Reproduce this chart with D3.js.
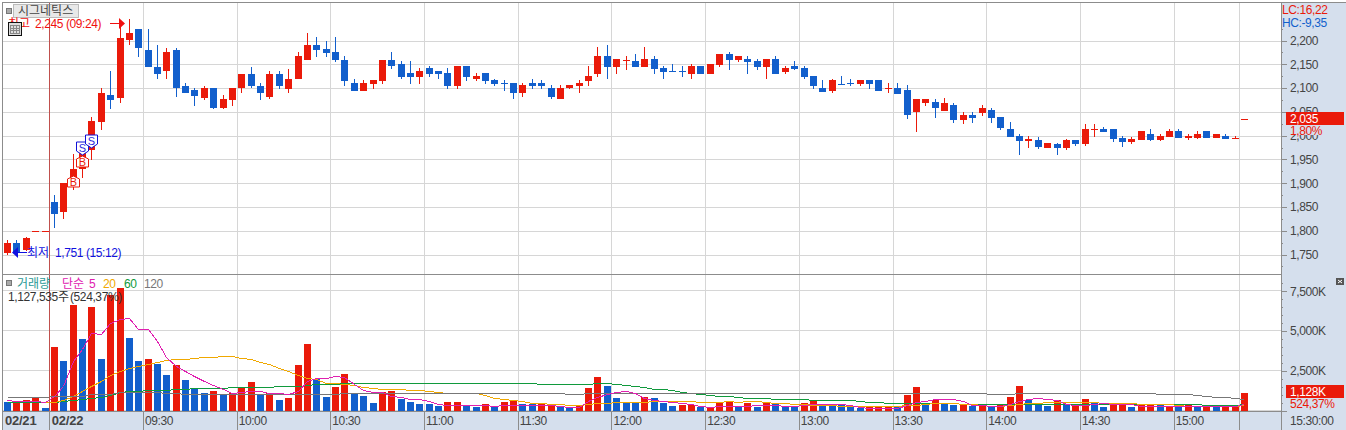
<!DOCTYPE html>
<meta charset="utf-8">
<style>
body { margin: 0; background: white; }
svg { display: block; }
text { font-family: "Liberation Sans", "Noto Sans CJK KR", sans-serif; font-size: 12px; letter-spacing: -0.4px; }
.kr { font-family: "Noto Sans CJK KR", sans-serif; font-size: 12px; letter-spacing: 0; }
.axis text { fill: #444; text-anchor: start; font-size: 12px; }
.axis line, .axis path { stroke: #8c8c8c; shape-rendering: crispEdges; }
</style>
<div id="chart"></div>
<script src="https://d3js.org/d3.v7.min.js"></script>
<script>
// 3 minute bars, 5 from 02/21 and the rest from 02/22
var opens = [1755,1775,1760,1800,1800,1860,1840,1905,1930,1968,
  2030,2085,2078,2200,2225,2180,2145,2135,2180,2105,
  2095,2078,2100,2057,2075,2100,2130,2105,2082,2130,
  2100,2118,2158,2190,2182,2175,2160,2110,2093,2108,
  2115,2160,2150,2131,2123,2142,2135,2131,2104,2146,
  2118,2131,2116,2110,2110,2089,2110,2110,2101,2078,
  2099,2104,2114,2129,2167,2144,2160,2156,2144,2161,
  2142,2135,2135,2129,2146,2129,2148,2171,2158,2161,
  2156,2144,2161,2133,2146,2142,2125,2101,2093,2109,
  2110,2108,2116,2116,2100,2101,2095,2048,2068,2070,
  2052,2065,2033,2044,2048,2054,2039,2014,1999,1989,
  1991,1974,1982,1974,1991,1982,2013,2014,2014,1995,
  1987,1991,2004,1991,1997,2010,1995,1995,2010,1995,
  1999,1996,2035];
var closes = [1775,1755,1785,1800,1800,1835,1900,1930,1965,2030,
  2090,2075,2205,2215,2185,2145,2130,2175,2100,2090,
  2082,2100,2057,2076,2100,2130,2105,2090,2130,2104,
  2120,2167,2190,2180,2173,2158,2115,2093,2110,2116,
  2160,2148,2123,2123,2135,2129,2129,2104,2146,2123,
  2125,2114,2108,2110,2089,2106,2104,2104,2082,2101,
  2106,2110,2125,2167,2144,2161,2160,2144,2161,2139,
  2133,2135,2135,2146,2129,2150,2171,2158,2167,2154,
  2144,2161,2129,2142,2139,2123,2104,2093,2116,2109,
  2110,2116,2108,2093,2100,2089,2042,2076,2076,2057,
  2069,2033,2044,2037,2058,2037,2016,1997,1989,1993,
  1976,1985,1974,1991,1982,2014,2013,2008,1993,1987,
  1993,2010,1991,1999,2010,1995,1999,2004,1995,2004,
  1993,1996,2035];
var highs = [1780,1780,1787,1800,1800,1875,1900,1962,1970,2040,
  2100,2135,2230,2245,2225,2225,2190,2185,2185,2110,
  2100,2105,2100,2085,2100,2130,2145,2110,2135,2135,
  2140,2175,2215,2207,2200,2207,2167,2120,2116,2116,
  2160,2175,2156,2156,2142,2146,2135,2142,2146,2146,
  2131,2131,2120,2116,2110,2110,2120,2116,2106,2106,
  2106,2116,2146,2186,2190,2161,2167,2171,2186,2167,
  2146,2150,2146,2150,2146,2150,2171,2175,2167,2167,
  2161,2161,2167,2146,2156,2146,2125,2116,2120,2125,
  2120,2116,2116,2116,2110,2110,2106,2076,2076,2076,
  2080,2069,2050,2050,2065,2058,2039,2029,2004,1999,
  1997,1985,1984,1993,1991,2025,2025,2018,2014,1999,
  1997,2010,2014,2004,2014,2014,2004,2010,2010,2004,
  2004,1999,2035];
var lows = [1750,1751,1757,1800,1800,1805,1825,1885,1910,1948,
  2012,2055,2068,2190,2165,2145,2120,2120,2082,2090,
  2063,2075,2057,2057,2063,2089,2100,2075,2078,2099,
  2090,2118,2158,2165,2165,2154,2104,2093,2093,2099,
  2108,2140,2118,2108,2108,2123,2118,2099,2099,2114,
  2114,2108,2104,2093,2078,2082,2099,2099,2078,2078,
  2099,2089,2104,2123,2118,2129,2139,2144,2144,2129,
  2118,2135,2123,2118,2129,2129,2144,2139,2154,2129,
  2139,2118,2129,2129,2139,2118,2099,2093,2089,2108,
  2104,2104,2099,2093,2089,2089,2034,2008,2063,2037,
  2052,2027,2025,2027,2042,2027,2012,1997,1959,1974,
  1972,1974,1959,1970,1978,1978,1997,2008,1987,1976,
  1982,1991,1989,1989,1997,1995,1991,1993,1995,1995,
  1993,1993,2035];
// open == close bars that are drawn blue
var blueDoji = [53,71,72,89,90];

var volumes = [504,483,630,840,126,3969,3087,6615,4473,6489,
  3213,7245,7686,4536,3087,3213,2898,2205,2835,1890,
  1386,1071,1197,945,1071,1386,1764,945,1071,630,
  756,2835,4158,1953,819,1449,2268,1008,882,441,
  1134,1197,693,504,378,378,252,504,504,252,
  189,378,189,504,567,378,378,378,378,189,
  126,315,1386,2079,1512,756,504,441,819,756,
  441,252,315,315,189,189,441,504,252,441,
  189,504,378,252,189,441,630,315,315,315,
  189,126,252,252,252,252,945,1449,378,630,
  378,315,378,252,315,252,378,819,1512,630,
  441,252,630,315,378,693,504,189,441,441,
  189,378,378,315,252,189,378,189,315,189,
  252,252,1128];
// 1 = red volume bar, 0 = blue
var volumeUp = [0,1,1,1,0,1,0,1,0,1,
  0,1,1,0,0,1,0,0,1,0,
  0,0,1,0,1,1,1,0,1,0,
  1,1,1,0,0,1,1,0,0,0,
  1,1,0,0,0,0,0,1,1,0,
  0,1,0,1,1,0,0,1,1,0,
  0,1,1,1,0,0,0,0,1,0,
  0,0,1,1,0,1,1,1,0,1,
  0,1,0,0,0,1,1,0,0,0,
  0,0,1,1,1,0,1,1,0,1,
  0,0,1,0,1,0,1,1,1,0,
  0,0,1,0,1,1,0,0,1,1,
  0,1,1,0,1,0,1,0,1,0,
  1,1,1];

var ma5 = [651,609,567,567,504,903,1533,3108,3843,4893,
  4788,5523,5733,5838,5145,5145,4368,3381,2793,2478,
  2163,1848,1596,1323,1113,1155,1197,1197,1113,1113,
  1008,1218,1848,2058,2058,2163,2121,1638,1260,1176,
  1176,903,861,735,735,567,420,357,357,357,
  357,315,294,357,357,357,357,357,357,294,
  231,231,567,861,1050,1176,1239,1071,798,672,
  609,546,483,420,294,231,294,294,294,294,
  336,336,336,294,294,357,420,420,420,420,
  357,210,147,168,168,168,315,525,609,693,
  735,693,567,357,357,294,294,420,609,735,
  777,735,672,420,357,357,420,441,420,420,
  378,294,294,294,252,252,294,294,252,252,
  252,252,420];
var ma20 = [null,null,null,null,504,525,651,903,1218,1533,
  1848,2205,2478,2688,2793,2898,3045,3150,3213,3255,
  3297,3360,3381,3402,3423,3318,3255,3045,2898,2688,
  2478,2205,2037,1953,1743,1700,1680,1575,1470,1407,
  1365,1365,1365,1302,1302,1239,1176,1113,1113,1113,
  1071,945,798,693,651,609,483,483,420,420,
  357,357,399,441,483,546,546,546,546,609,
  609,609,609,609,546,546,546,609,546,609,
  609,546,483,441,420,378,357,336,336,294,
  294,273,273,294,294,294,357,357,420,441,
  483,441,420,378,357,294,294,357,420,483,
  483,546,546,546,546,546,546,483,483,441,
  441,420,420,420,378,357,294,294,294,294,
  294,294,357];
var ma60 = [504,504,504,504,504,504,588,630,693,777,
  861,945,1155,1218,1218,1302,1302,1302,1365,1365,
  1428,1428,1428,1428,1470,1470,1470,1470,1470,1533,
  1533,1533,1575,1638,1638,1638,1743,1743,1743,1743,
  1743,1743,1743,1743,1743,1743,1743,1743,1743,1743,
  1743,1743,1743,1743,1743,1743,1743,1680,1680,1680,
  1680,1680,1680,1743,1743,1680,1617,1554,1491,1365,
  1365,1281,1176,1113,1050,987,924,924,861,798,
  798,798,735,735,735,735,672,672,672,672,
  672,609,546,546,483,483,483,483,483,483,
  483,483,420,420,420,420,420,420,420,420,
  420,420,420,420,420,420,420,420,420,420,
  420,420,420,420,420,420,420,420,357,357,
  357,357,420];
var ma120 = [840,840,840,840,840,903,903,903,903,1008,
  1008,1008,1155,1155,1155,1155,1155,1113,1113,1050,
  1050,1050,1050,1050,1050,1050,1050,1050,1050,1050,
  1050,1050,1050,1050,1050,1050,1113,1113,1113,1113,
  1113,1113,1113,1113,1113,1113,1113,1113,1113,1113,
  1113,1113,1113,1113,1113,1113,1113,1113,1113,1113,
  1050,1050,1113,1113,1113,1113,1113,1113,1113,1113,
  1113,1113,1113,1113,1113,1113,1113,1113,1113,1113,
  1113,1113,1113,1113,1113,1113,1113,1113,1113,1113,
  1113,1113,1113,1113,1113,1113,1113,1113,1113,1113,
  1113,1113,1113,1113,1113,1050,1050,1050,1113,1113,
  1113,1113,1113,1113,1113,1113,1113,1113,1113,1113,
  1113,1113,1113,1050,1050,1050,1050,987,924,861,
  861,798,735];

var maLines = [
  { values: ma60, color: "#109a3c" },
  { values: ma20, color: "#f0a800" },
  { values: ma120, color: "#777777" },
  { values: ma5, color: "#e020b0" }
];

var signals = [
  { bar: 7, price: 1915, type: "B" },
  { bar: 8, price: 1957, type: "B" },
  { bar: 8, price: 1960, type: "S" },
  { bar: 9, price: 1975, type: "S" }
];

var priceTicks = [1750,1800,1850,1900,1950,2000,2050,2100,2150,2200];
var priceMinor = [1725,1775,1825,1875,1925,1975,2025,2075,2125,2175,2225];
var volumeTicks = [0,2500,5000,7500];
var volumeMinor = [500,1000,1500,2000,3000,3500,4000,4500,5500,6000,6500,7000,8000];
var timeTickBars = [15,25,35,45,55,65,75,85,95,105,115,125];
var timeTickLabels = ["09:30","10:00","10:30","11:00","11:30","12:00","12:30","13:00","13:30","14:00","14:30","15:00"];
var dayBars = [0,5];
var dayLabels = ["02/21","02/22"];
var lastGridBar = 132;

var RED = "#ea1a0a", BLUE = "#125fcc", PANEL = "#d5dfed", GRID = "#d6d6d6";

var width = 1346, height = 430;
var left = 2, plotRight = 1281, top_ = 2, split = 274, bottom = 411;

var svg = d3.select("#chart").append("svg")
  .attr("width", width)
  .attr("height", height);

// bar edge scale, one unit per bar
var x = d3.scaleLinear().domain([0, opens.length]).range([2.4, 1248.6]);
var barW = 7;
var cx = function(i) { return Math.round(x(i + 0.5)); };

var yPrice = d3.scaleLinear().domain([1750, 2200]).range([254.5, 40.5]);
var yVol = d3.scaleLinear().domain([0, 7500]).range([410.5, 291.2]);

// panels behind everything
svg.append("rect").attr("x", plotRight).attr("y", top_).attr("width", width - plotRight).attr("height", height - top_).attr("fill", PANEL);
svg.append("rect").attr("x", left).attr("y", bottom).attr("width", plotRight - left).attr("height", height - bottom).attr("fill", PANEL);

// grid
var gridG = svg.append("g").attr("shape-rendering", "crispEdges").attr("stroke", GRID);
gridG.selectAll(".hp").data(priceTicks).enter().append("line")
  .attr("x1", left).attr("x2", plotRight)
  .attr("y1", function(d) { return Math.round(yPrice(d)) + 0.5; })
  .attr("y2", function(d) { return Math.round(yPrice(d)) + 0.5; });
gridG.selectAll(".hv").data(volumeTicks).enter().append("line")
  .attr("x1", left).attr("x2", plotRight)
  .attr("y1", function(d) { return Math.round(yVol(d)) - 0.5; })
  .attr("y2", function(d) { return Math.round(yVol(d)) - 0.5; });
gridG.selectAll(".vg").data(timeTickBars.concat([lastGridBar])).enter().append("line")
  .attr("x1", function(d) { return Math.round(x(d)) + 0.5; })
  .attr("x2", function(d) { return Math.round(x(d)) + 0.5; })
  .attr("y1", top_).attr("y2", bottom);

// candles
function candleColor(i) {
  if (closes[i] > opens[i]) return RED;
  if (closes[i] < opens[i]) return BLUE;
  return blueDoji.indexOf(i) >= 0 ? BLUE : RED;
}
var candles = svg.append("g").attr("shape-rendering", "crispEdges");
candles.selectAll(".wick").data(opens).enter().append("line")
  .attr("x1", function(d, i) { return cx(i) + 0.5; })
  .attr("x2", function(d, i) { return cx(i) + 0.5; })
  .attr("y1", function(d, i) { return yPrice(highs[i]); })
  .attr("y2", function(d, i) { return yPrice(lows[i]); })
  .attr("stroke", function(d, i) { return candleColor(i); });
candles.selectAll(".body").data(opens).enter().append("rect")
  .attr("x", function(d, i) { return cx(i) - 3; })
  .attr("width", barW)
  .attr("y", function(d, i) { return Math.round(yPrice(Math.max(opens[i], closes[i]))); })
  .attr("height", function(d, i) { return Math.max(1, Math.round(Math.abs(yPrice(opens[i]) - yPrice(closes[i])))); })
  .attr("fill", function(d, i) { return candleColor(i); });

// volume bars
svg.append("g").attr("shape-rendering", "crispEdges")
  .selectAll("rect").data(volumes).enter().append("rect")
  .attr("x", function(d, i) { return cx(i) - 3; })
  .attr("width", barW)
  .attr("y", function(d) { return Math.round(yVol(d)); })
  .attr("height", function(d) { return Math.round(yVol(0)) - Math.round(yVol(d)); })
  .attr("fill", function(d, i) { return volumeUp[i] ? RED : BLUE; });

// moving averages
var line = d3.line()
  .defined(function(d) { return d != null; })
  .x(function(d, i) { return cx(i) + 0.5; })
  .y(function(d) { return Math.round(yVol(d)) + 0.5; });
svg.append("g").selectAll("path").data(maLines).enter().append("path")
  .attr("d", function(d) { return line(d.values); })
  .attr("fill", "none")
  .attr("stroke", function(d) { return d.color; })
  .attr("shape-rendering", "crispEdges")
  .attr("stroke-width", 1);

// buy and sell markers
var marks = svg.append("g").selectAll("g").data(signals).enter().append("g")
  .attr("transform", function(d) { return "translate(" + (cx(d.bar) + 0.5) + "," + Math.round(yPrice(d.price)) + ")"; });
marks.append("path")
  .attr("d", function(d) {
    return d.type == "B" ? "M0,0L6,3V11H-6V3Z" : "M0,0L6,-4V-13H-6V-4Z";
  })
  .attr("fill", "white")
  .attr("stroke", function(d) { return d.type == "B" ? RED : "#1010d8"; });
marks.append("text")
  .attr("text-anchor", "middle")
  .attr("y", function(d) { return d.type == "B" ? 10 : -3; })
  .attr("style", "font-size:11px;letter-spacing:0")
  .attr("fill", function(d) { return d.type == "B" ? RED : "#2a2ae0"; })
  .text(function(d) { return d.type; });

// session start line
svg.append("line")
  .attr("x1", Math.round(x(dayBars[1])) + 0.5).attr("x2", Math.round(x(dayBars[1])) + 0.5)
  .attr("y1", top_).attr("y2", bottom)
  .attr("stroke", "#c0504d").attr("shape-rendering", "crispEdges");

// frame
var frame = svg.append("g").attr("stroke", "#8c8c8c").attr("shape-rendering", "crispEdges");
frame.append("line").attr("x1", left).attr("x2", width).attr("y1", top_ + 0.5).attr("y2", top_ + 0.5);
frame.append("line").attr("x1", left).attr("x2", left).attr("y1", top_).attr("y2", height);
frame.append("line").attr("x1", left).attr("x2", plotRight).attr("y1", split + 0.5).attr("y2", split + 0.5);
frame.append("line").attr("x1", left).attr("x2", plotRight).attr("y1", bottom + 0.5).attr("y2", bottom + 0.5);

// right axes
function rightAxis(scale, major, minor, fmt) {
  var g = svg.append("g").attr("class", "axis").attr("transform", "translate(" + plotRight + ",0)");
  g.call(d3.axisRight(scale).tickValues(minor).tickSize(2).tickFormat(""));
  g.select(".domain").remove();
  var m = svg.append("g").attr("class", "axis").attr("transform", "translate(" + plotRight + ",0)");
  m.call(d3.axisRight(scale).tickValues(major).tickSize(6).tickPadding(3).tickFormat(fmt));
  m.select(".domain").remove();
}
rightAxis(yPrice, priceTicks, priceMinor, d3.format(","));
rightAxis(yVol, volumeTicks, volumeMinor, function(d) { return d ? d3.format(",")(d) + "K" : ""; });
svg.append("line").attr("x1", plotRight + 0.5).attr("x2", plotRight + 0.5).attr("y1", top_).attr("y2", height)
  .attr("stroke", "#8c8c8c").attr("shape-rendering", "crispEdges");

// bottom axis
var xAxisG = svg.append("g").attr("class", "axis").attr("transform", "translate(0," + bottom + ")");
xAxisG.call(d3.axisBottom(x).tickValues(timeTickBars.concat(dayBars[1], lastGridBar))
    .tickSize(19).tickFormat(""));
xAxisG.select(".domain").remove();
xAxisG.selectAll(".lab").data(timeTickBars).enter().append("text")
  .attr("x", function(d) { return x(d) + 2; })
  .attr("y", 14)
  .text(function(d, i) { return timeTickLabels[i]; });
xAxisG.selectAll(".day").data(dayBars).enter().append("text")
  .attr("x", function(d) { return x(d) + 2.5; })
  .attr("y", 14)
  .attr("font-weight", "bold")
  .attr("style", "font-size:13px;letter-spacing:-0.2px;fill:#444")
  .text(function(d, i) { return dayLabels[i]; });
svg.append("text").attr("x", plotRight + 9).attr("y", height - 5).attr("fill", "#444").text("15:30:00");

// top left title
svg.append("rect").attr("x", 6).attr("y", 8).attr("width", 5).attr("height", 5).attr("fill", "#aaa").attr("stroke", "#777").attr("shape-rendering", "crispEdges");
svg.append("rect").attr("x", 13.5).attr("y", 4.5).attr("width", 65).attr("height", 13).attr("fill", "#e8e8e8").attr("stroke", "#bbb").attr("shape-rendering", "crispEdges");
svg.append("text").attr("class", "kr").attr("x", 18).attr("y", 15).attr("fill", "#444").text("시그네틱스");

// high and low notes
svg.append("text").attr("class", "kr").attr("x", 8).attr("y", 28).attr("fill", "#f01010").text("최고");
svg.append("text").attr("x", 35).attr("y", 28).attr("fill", "#f01010").text("2,245 (09:24)");
var cal = svg.append("g").attr("shape-rendering", "crispEdges");
cal.append("rect").attr("x", 8.5).attr("y", 22.5).attr("width", 13).attr("height", 13).attr("fill", "#ddd").attr("stroke", "#111");
cal.append("rect").attr("x", 10.5).attr("y", 25.5).attr("width", 9).attr("height", 8).attr("fill", "none").attr("stroke", "#888");
cal.append("path").attr("d", "M13.5,25V33M16.5,25V33M10,28.5H20M10,30.5H20").attr("stroke", "#888");

svg.append("path").attr("d", "M110,23.5H119").attr("stroke", "#f01010");
svg.append("path").attr("d", "M119,18L125,23.5L119,29Z").attr("fill", "#f01010");

svg.append("text").attr("class", "kr").attr("x", 27).attr("y", 257).attr("fill", "#1010e0").text("최저");
svg.append("text").attr("x", 55).attr("y", 257).attr("fill", "#1010e0").text("1,751 (15:12)");
svg.append("path").attr("d", "M17,252.5H27").attr("stroke", "#1010e0");
svg.append("path").attr("d", "M18,247L12,252.5L18,258Z").attr("fill", "#1010e0");

// volume legend
svg.append("rect").attr("x", 6).attr("y", 280).attr("width", 5).attr("height", 5).attr("fill", "#aaa").attr("stroke", "#777").attr("shape-rendering", "crispEdges");
svg.append("text").attr("class", "kr").attr("x", 17).attr("y", 288).attr("fill", "#2a9a96").text("거래량");
svg.append("text").attr("class", "kr").attr("x", 62).attr("y", 288).attr("fill", "#e020b0").text("단순");
svg.append("text").attr("x", 89).attr("y", 288).attr("fill", "#e020b0").text("5");
svg.append("text").attr("x", 103).attr("y", 288).attr("fill", "#f0a800").text("20");
svg.append("text").attr("x", 124).attr("y", 288).attr("fill", "#109a3c").text("60");
svg.append("text").attr("x", 144).attr("y", 288).attr("fill", "#777").text("120");
svg.append("text").attr("x", 8).attr("y", 301).attr("fill", "#333").text("1,127,535");
svg.append("text").attr("class", "kr").attr("x", 58).attr("y", 301).attr("fill", "#333").text("주");
svg.append("text").attr("x", 70).attr("y", 301).attr("fill", "#333").text("(524,37%)");

// right side labels
svg.append("text").attr("x", 1282).attr("y", 14).attr("fill", RED).text("LC:16,22");
svg.append("text").attr("x", 1282).attr("y", 27).attr("fill", BLUE).text("HC:-9,35");

function lastBox(y, label, pct) {
  svg.append("rect").attr("x", 1286).attr("y", y + 13).attr("width", 58).attr("height", 10).attr("fill", PANEL);
  svg.append("rect").attr("x", 1286).attr("y", y).attr("width", 58).attr("height", 13).attr("fill", RED);
  svg.append("text").attr("x", 1290).attr("y", y + 11).attr("fill", "white").text(label);
  svg.append("text").attr("x", 1290).attr("y", y + 23).attr("fill", RED).text(pct);
}
lastBox(112, "2,035", "1,80%");
lastBox(385, "1,128K", "524,37%");

// close button
svg.append("rect").attr("x", 1336).attr("y", 278).attr("width", 8).attr("height", 7).attr("fill", "#555");
svg.append("path").attr("d", "M1338,280L1342,283M1342,280L1338,283").attr("stroke", "white");
</script>
